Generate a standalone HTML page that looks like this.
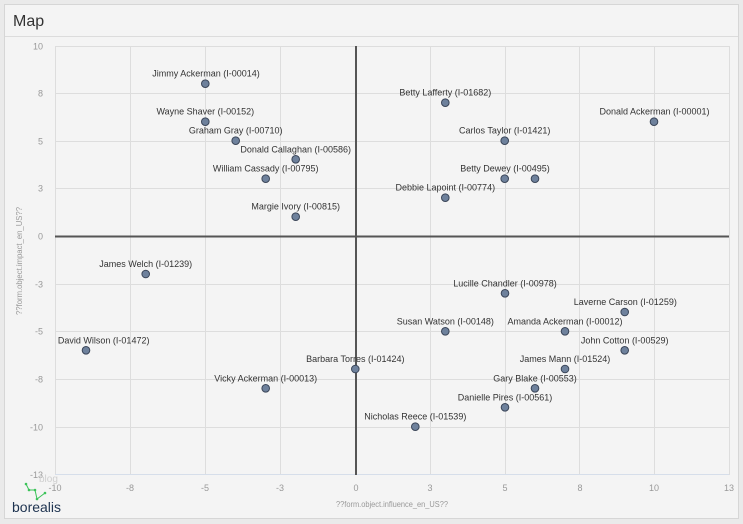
<!DOCTYPE html>
<html><head><meta charset="utf-8"><style>
html,body{margin:0;padding:0;background:#eaeaea;}
svg{display:block;font-family:"Liberation Sans",Arial,sans-serif;}
</style></head><body>
<svg width="743" height="524" viewBox="0 0 743 524" xmlns="http://www.w3.org/2000/svg">
<rect x="0" y="0" width="743" height="524" fill="#eaeaea"/>
<rect x="4.5" y="4.5" width="734" height="514" fill="#f4f4f4" stroke="#d6d6d6" stroke-width="1"/>
<line x1="5" y1="36.5" x2="738" y2="36.5" stroke="#dcdcdc"/>
<text x="13" y="26" font-size="16" fill="#333">Map</text>
<g stroke="#dddddd" stroke-width="1">
<line x1="55.5" y1="46" x2="55.5" y2="475"/>
<line x1="130.5" y1="46" x2="130.5" y2="475"/>
<line x1="205.5" y1="46" x2="205.5" y2="475"/>
<line x1="280.5" y1="46" x2="280.5" y2="475"/>
<line x1="430.5" y1="46" x2="430.5" y2="475"/>
<line x1="505.5" y1="46" x2="505.5" y2="475"/>
<line x1="579.5" y1="46" x2="579.5" y2="475"/>
<line x1="654.5" y1="46" x2="654.5" y2="475"/>
<line x1="729.5" y1="46" x2="729.5" y2="475"/>
<line x1="55" y1="46.5" x2="729" y2="46.5"/>
<line x1="55" y1="93.5" x2="729" y2="93.5"/>
<line x1="55" y1="141.5" x2="729" y2="141.5"/>
<line x1="55" y1="188.5" x2="729" y2="188.5"/>
<line x1="55" y1="284.5" x2="729" y2="284.5"/>
<line x1="55" y1="331.5" x2="729" y2="331.5"/>
<line x1="55" y1="379.5" x2="729" y2="379.5"/>
<line x1="55" y1="427.5" x2="729" y2="427.5"/>
</g>
<line x1="55" y1="474.5" x2="729" y2="474.5" stroke="#d6deea"/>
<line x1="356" y1="46" x2="356" y2="475" stroke="#555" stroke-width="2"/>
<line x1="55" y1="236.5" x2="729" y2="236.5" stroke="#555" stroke-width="2"/>
<g font-size="9" fill="#999" text-anchor="end">
<text x="43" y="49.5">10</text>
<text x="43" y="96.5">8</text>
<text x="43" y="144.5">5</text>
<text x="43" y="191.5">3</text>
<text x="43" y="239.5">0</text>
<text x="43" y="287.5">-3</text>
<text x="43" y="334.5">-5</text>
<text x="43" y="382.5">-8</text>
<text x="43" y="430.5">-10</text>
<text x="43" y="478">-13</text>
</g>
<g font-size="9" fill="#999" text-anchor="middle">
<text x="55" y="491">-10</text>
<text x="130" y="491">-8</text>
<text x="205" y="491">-5</text>
<text x="280" y="491">-3</text>
<text x="356" y="491">0</text>
<text x="430" y="491">3</text>
<text x="505" y="491">5</text>
<text x="580" y="491">8</text>
<text x="654" y="491">10</text>
<text x="729" y="491">13</text>
</g>
<text x="392" y="507" font-size="8" fill="#999" text-anchor="middle" textLength="112" lengthAdjust="spacingAndGlyphs">??form.object.influence_en_US??</text>
<text transform="translate(22,261) rotate(-90)" font-size="8" fill="#999" text-anchor="middle" textLength="108" lengthAdjust="spacingAndGlyphs">??form.object.impact_en_US??</text>
<text x="39" y="482" font-size="10" fill="#cfcfcf">blog</text>
<polyline points="26,484 29,490 35,490 37,499 45,493" fill="none" stroke="#3cc35a" stroke-width="1"/>
<g fill="#3cc35a"><circle cx="26" cy="484" r="1.3"/><circle cx="29" cy="490" r="1.3"/><circle cx="35" cy="490" r="1.3"/><circle cx="37" cy="499" r="1.3"/><circle cx="45" cy="493" r="1.3"/></g>
<text x="12" y="512" font-size="14" fill="#1e3350">borealis</text>
<g fill="#6e819c" stroke="#3a4558" stroke-width="1">
<circle cx="205.3" cy="83.7" r="3.8"/>
<circle cx="205.3" cy="121.7" r="3.8"/>
<circle cx="235.7" cy="140.7" r="3.8"/>
<circle cx="295.7" cy="159.3" r="3.8"/>
<circle cx="265.7" cy="178.7" r="3.8"/>
<circle cx="295.7" cy="216.7" r="3.8"/>
<circle cx="445.3" cy="102.7" r="3.8"/>
<circle cx="654" cy="121.7" r="3.8"/>
<circle cx="504.7" cy="140.7" r="3.8"/>
<circle cx="504.7" cy="178.7" r="3.8"/>
<circle cx="535" cy="178.7" r="3.8"/>
<circle cx="445.3" cy="197.7" r="3.8"/>
<circle cx="145.7" cy="274" r="3.8"/>
<circle cx="86" cy="350.3" r="3.8"/>
<circle cx="355.3" cy="369" r="3.8"/>
<circle cx="265.7" cy="388.3" r="3.8"/>
<circle cx="505" cy="293.3" r="3.8"/>
<circle cx="624.7" cy="312" r="3.8"/>
<circle cx="445.3" cy="331.3" r="3.8"/>
<circle cx="565" cy="331.3" r="3.8"/>
<circle cx="624.7" cy="350.3" r="3.8"/>
<circle cx="565" cy="369" r="3.8"/>
<circle cx="535" cy="388.3" r="3.8"/>
<circle cx="505" cy="407.3" r="3.8"/>
<circle cx="415.3" cy="426.7" r="3.8"/>
</g>
<g font-size="9" fill="#333" text-anchor="middle">
<text x="206" y="76.7">Jimmy Ackerman (I-00014)</text>
<text x="205.3" y="114.7">Wayne Shaver (I-00152)</text>
<text x="235.7" y="133.7">Graham Gray (I-00710)</text>
<text x="295.7" y="152.3">Donald Callaghan (I-00586)</text>
<text x="265.7" y="171.7">William Cassady (I-00795)</text>
<text x="295.7" y="209.7">Margie Ivory (I-00815)</text>
<text x="445.3" y="95.7">Betty Lafferty (I-01682)</text>
<text x="654.5" y="114.7">Donald Ackerman (I-00001)</text>
<text x="504.7" y="133.7">Carlos Taylor (I-01421)</text>
<text x="505" y="171.7">Betty Dewey (I-00495)</text>
<text x="445.3" y="190.7">Debbie Lapoint (I-00774)</text>
<text x="145.7" y="267">James Welch (I-01239)</text>
<text x="103.7" y="343.3">David Wilson (I-01472)</text>
<text x="355.3" y="362">Barbara Torres (I-01424)</text>
<text x="265.7" y="381.3">Vicky Ackerman (I-00013)</text>
<text x="505" y="286.3">Lucille Chandler (I-00978)</text>
<text x="625.3" y="305">Laverne Carson (I-01259)</text>
<text x="445.3" y="324.3">Susan Watson (I-00148)</text>
<text x="565" y="324.3">Amanda Ackerman (I-00012)</text>
<text x="624.7" y="343.3">John Cotton (I-00529)</text>
<text x="565" y="362">James Mann (I-01524)</text>
<text x="535" y="381.3">Gary Blake (I-00553)</text>
<text x="505" y="400.3">Danielle Pires (I-00561)</text>
<text x="415.3" y="419.7">Nicholas Reece (I-01539)</text>
</g>
</svg>
</body></html>
